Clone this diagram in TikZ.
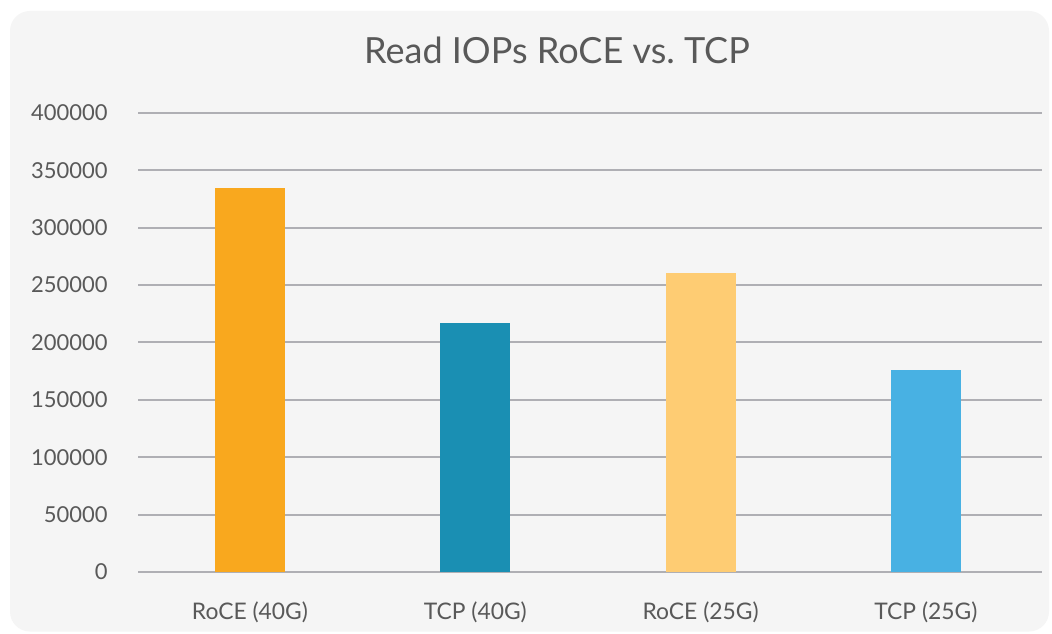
\documentclass[tikz,border=0pt]{standalone}
\usepackage{fontspec}
\setmainfont{Lato}
\definecolor{panelbg}{HTML}{F5F5F5}
\definecolor{gridgray}{HTML}{AFAFB4}
\definecolor{labelgray}{HTML}{595959}
\definecolor{rocefortyc}{HTML}{F9A81E}
\definecolor{tcpfortyc}{HTML}{1A8FB3}
\definecolor{rocetwentyc}{HTML}{FECC73}
\definecolor{tcptwentyc}{HTML}{48B1E3}
\begin{document}
\begin{tikzpicture}[x=0.02cm,y=0.02cm,
		gridline/.style={draw=gridgray,line width=1.2pt},
		ticklabel/.style={anchor=east,inner sep=0pt,text=labelgray,font=\fontsize{12.5}{15}\selectfont},
		catlabel/.style={inner sep=0pt,text=labelgray,font=\fontsize{13}{15}\selectfont}]
			\useasboundingbox (0,0) rectangle (1052,633);
			\fill[white] (0,0) rectangle (1052,633);
			\fill[panelbg,rounded corners=0.4cm] (10,1.5) rectangle (1049,622);% chart panel
			\node[text=labelgray,font=\fontsize{20.5}{24}\selectfont] (title) at (557,583) {Read IOPs RoCE vs.\ TCP};

			\begin{scope}[shift={(0,61)},y=0.02296cm]% one unit = 1000 IOPs
				\foreach \v in {0,50,...,400} {
					\draw[gridline] (138,\v) -- (1042,\v);
					\node[ticklabel] (tick\v) at (108,\v) {\ifnum\v=0 0\else\v000\fi};
				}
				\foreach \name/\v/\col [count=\i] in {RoCE (40G)/334.5/rocefortyc,TCP (40G)/217/tcpfortyc,RoCE (25G)/260.5/rocetwentyc,TCP (25G)/176/tcptwentyc} {
					\fill[\col] ({250+225.3*(\i-1)-35},0) rectangle ({250+225.3*(\i-1)+35},\v);% bar
					\node[catlabel] (cat\i) at ({250+225.3*(\i-1)},-34.8) {\name};
				}
			\end{scope}
		\end{tikzpicture}
\end{document}
